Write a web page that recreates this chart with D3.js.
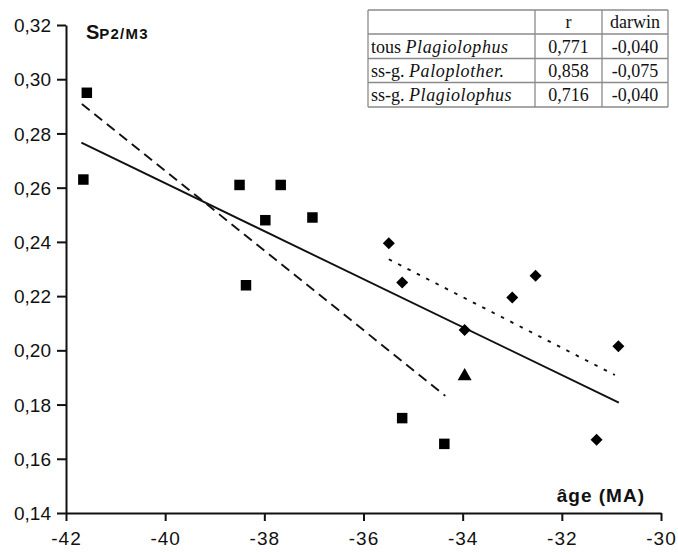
<!DOCTYPE html>
<html>
<head>
    <style>
        body { margin: 0; background: #fff; }
        .axis text { font-family: Arial, "Liberation Sans", sans-serif; font-size: 19px; fill: #111; }
        .axis path, .axis line { stroke: #111; stroke-width: 2; }
        .fit { fill: none; stroke: #111; stroke-width: 1.9; }
        .tbl text { font-family: "Liberation Serif", "Times New Roman", serif; font-size: 18px; fill: #111; }
        .tbl line { stroke: #8a8a8a; stroke-width: 1.3; }
    </style>
    <script src="https://d3js.org/d3.v7.min.js"></script>
</head>
<body>

<svg width="678" height="554"></svg>

<script>

    // squares: ss-g. Paloplotherium
    var squares = [
        { x: -41.58, y: 0.295 },
        { x: -41.65, y: 0.263 },
        { x: -38.5, y: 0.261 },
        { x: -37.67, y: 0.261 },
        { x: -37.98, y: 0.248 },
        { x: -37.03, y: 0.249 },
        { x: -38.37, y: 0.224 },
        { x: -35.22, y: 0.175 },
        { x: -34.37, y: 0.1655 }
    ];

    // diamonds: ss-g. Plagiolophus
    var diamonds = [
        { x: -35.49, y: 0.2395 },
        { x: -35.22, y: 0.225 },
        { x: -33.0, y: 0.2195 },
        { x: -32.53, y: 0.2275 },
        { x: -33.96, y: 0.2075 },
        { x: -30.86, y: 0.2015 },
        { x: -31.3, y: 0.167 }
    ];

    var triangles = [
        { x: -33.96, y: 0.1905 }
    ];

    // regression lines (end points)
    var lineAll = [{ x: -41.69, y: 0.2766 }, { x: -30.85, y: 0.1807 }];
    var linePalo = [{ x: -41.68, y: 0.2909 }, { x: -34.35, y: 0.1832 }];
    var linePlag = [{ x: -35.49, y: 0.2336 }, { x: -30.93, y: 0.1909 }];

    var xTicks = [-42, -40, -38, -36, -34, -32, -30];
    var yTicks = [0.14, 0.16, 0.18, 0.20, 0.22, 0.24, 0.26, 0.28, 0.30, 0.32];

    var tableHead = ["", "r", "darwin"];
    var tableGroup = ["tous ", "ss-g. ", "ss-g. "];
    var tableTaxon = ["Plagiolophus", "Paloplother.", "Plagiolophus"];
    var tableR = ["0,771", "0,858", "0,716"];
    var tableDarwin = ["-0,040", "-0,075", "-0,040"];

    var svg = d3.select("svg");

    var xScale = d3.scaleLinear().domain([-42, -30]).range([66, 661]);
    var yScale = d3.scaleLinear().domain([0.14, 0.32]).range([513, 25]);

    var fmt = function(d) { return d3.format(".2f")(d).replace(".", ","); };

    var gx = svg.append("g")
        .attr("class", "axis")
        .attr("transform", "translate(0,513)")
        .call(d3.axisBottom(xScale).tickValues(xTicks).tickSize(8).tickSizeOuter(0).tickPadding(11));
    gx.selectAll("text").text(function(d) { return d; }).attr("letter-spacing", 1);

    var gy = svg.append("g")
        .attr("class", "axis")
        .attr("transform", "translate(66,0)")
        .call(d3.axisLeft(yScale).tickValues(yTicks).tickFormat(fmt).tickSize(9).tickSizeOuter(0).tickPadding(6));
    gy.selectAll("text").attr("dy", "0.35em");

    var line = d3.line()
        .x(function(d) { return xScale(d.x); })
        .y(function(d) { return yScale(d.y); });

    svg.append("path").datum(lineAll).attr("class", "fit").attr("d", line);
    svg.append("path").datum(linePalo).attr("class", "fit")
        .attr("stroke-dasharray", "10,6").attr("stroke-width", 2.2).attr("d", line);
    svg.append("path").datum(linePlag).attr("class", "fit")
        .attr("stroke-dasharray", "3.5,7").attr("stroke-width", 2.6).attr("d", line);

    svg.selectAll(".sq").data(squares).enter().append("path")
        .attr("d", d3.symbol().type(d3.symbolSquare).size(110))
        .attr("transform", function(d) { return "translate(" + xScale(d.x) + "," + yScale(d.y) + ")"; })
        .attr("fill", "#000");

    svg.selectAll(".dm").data(diamonds).enter().append("path")
        .attr("d", d3.symbol().type(d3.symbolSquare).size(72))
        .attr("transform", function(d) { return "translate(" + xScale(d.x) + "," + yScale(d.y) + ") rotate(45)"; })
        .attr("fill", "#000");

    svg.selectAll(".tr").data(triangles).enter().append("path")
        .attr("d", d3.symbol().type(d3.symbolTriangle).size(85))
        .attr("transform", function(d) { return "translate(" + xScale(d.x) + "," + yScale(d.y) + ")"; })
        .attr("fill", "#000");

    // title and axis label
    var title = svg.append("text")
        .attr("x", 86).attr("y", 39)
        .attr("font-family", "Arial, 'Liberation Sans', sans-serif")
        .attr("font-weight", "bold").attr("fill", "#111");
    title.append("tspan").attr("font-size", 20).text("S");
    title.append("tspan").attr("font-size", 15).attr("letter-spacing", 1.2).text("P2/M3");

    svg.append("text")
        .attr("x", 645).attr("y", 502)
        .attr("text-anchor", "end")
        .attr("font-family", "Arial, 'Liberation Sans', sans-serif")
        .attr("font-weight", "bold").attr("font-size", 19).attr("fill", "#111")
        .attr("letter-spacing", 1)
        .text("âge (MA)");

    // table
    var colX = [368, 535, 602, 668];
    var rowY = [10, 34, 58.5, 82.5, 107];
    var tbl = svg.append("g").attr("class", "tbl");

    tbl.selectAll(".hl").data(rowY).enter().append("line")
        .attr("x1", colX[0]).attr("x2", colX[3])
        .attr("y1", function(d) { return d; }).attr("y2", function(d) { return d; });
    tbl.selectAll(".vl").data(colX).enter().append("line")
        .attr("y1", rowY[0]).attr("y2", rowY[4])
        .attr("x1", function(d) { return d; }).attr("x2", function(d) { return d; });

    tableHead.forEach(function(h, i) {
        if (!h) return;
        tbl.append("text")
            .attr("x", (colX[i] + colX[i + 1]) / 2).attr("y", rowY[1] - 6)
            .attr("text-anchor", "middle").text(h);
    });

    tableTaxon.forEach(function(t, i) {
        var yy = rowY[i + 2] - 6;
        var tx = tbl.append("text").attr("x", colX[0] + 3).attr("y", yy);
        tx.append("tspan").text(tableGroup[i]);
        tx.append("tspan").attr("font-style", "italic").attr("letter-spacing", 0.6).text(t);
        tbl.append("text").attr("x", (colX[1] + colX[2]) / 2).attr("y", yy)
            .attr("text-anchor", "middle").text(tableR[i]);
        tbl.append("text").attr("x", (colX[2] + colX[3]) / 2).attr("y", yy)
            .attr("text-anchor", "middle").text(tableDarwin[i]);
    });
</script>
</body>
</html>
